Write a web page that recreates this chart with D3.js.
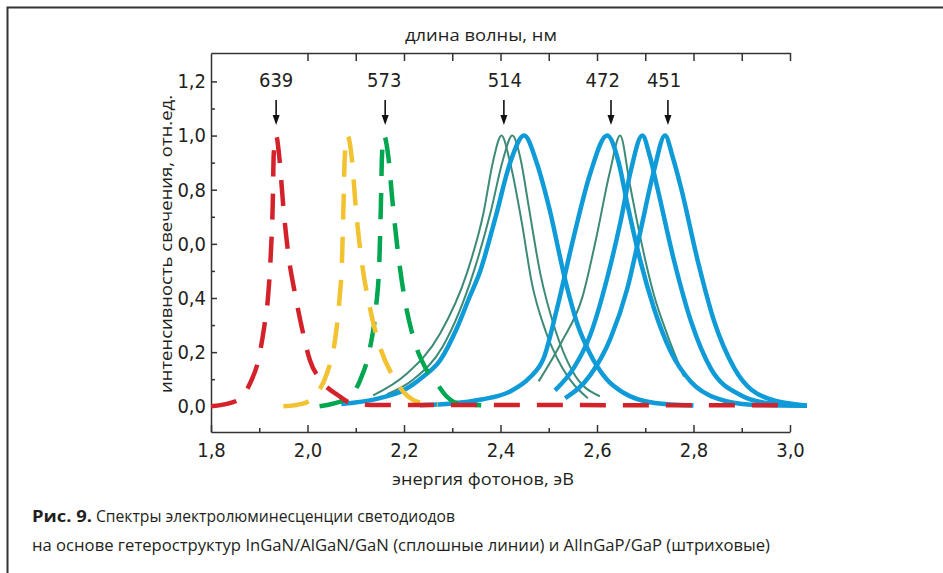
<!DOCTYPE html>
<html>
<head>
<meta charset="utf-8">
<script src="https://cdn.jsdelivr.net/npm/d3@7"></script>
<style>
  body { margin: 0; background: #fff; }
  svg { display: block; }
</style>
</head>
<body>
<svg width="943" height="573"></svg>
<script>
// Energy axis (eV) ticks and labels
var energyTicks = [1.8, 2.0, 2.2, 2.4, 2.6, 2.8, 3.0];
var energyLabels = ["1,8", "2,0", "2,2", "2,4", "2,6", "2,8", "3,0"];
var energyMinor = [1.9, 2.1, 2.3, 2.5, 2.7, 2.9];
var topTicks = [2.0, 2.1, 2.2, 2.3, 2.4, 2.5, 2.6, 2.7, 2.8, 2.9, 3.0];

// Intensity axis (labels as printed, incl. the "0,0" at 0.6)
var intensityTicks = [0, 0.2, 0.4, 0.6, 0.8, 1.0, 1.2];
var intensityLabels = ["0,0", "0,2", "0,4", "0,0", "0,8", "1,0", "1,2"];
var intensityMinor = [0.1, 0.3, 0.5, 0.7, 0.9, 1.1];

// Peak wavelengths (nm) with arrow and label positions on the energy axis
var peakWavelengths = ["639", "573", "514", "472", "451"];
var arrowEnergy = [1.935, 2.161, 2.407, 2.629, 2.747];
var labelEnergy = [1.935, 2.159, 2.409, 2.612, 2.739];

// AlInGaP/GaP spectra (dashed): [energy, intensity]
var redDash = [[1.80, 0.0], [1.853, 0.02], [1.881, 0.085], [1.898, 0.17], [1.910, 0.29], [1.918, 0.40],
  [1.924, 0.565], [1.928, 0.75], [1.930, 0.93], [1.935, 1.0], [1.941, 0.93], [1.950, 0.735],
  [1.960, 0.565], [1.974, 0.417], [1.988, 0.293], [2.005, 0.17], [2.026, 0.10], [2.064, 0.04],
  [2.09, 0.012], [2.13, 0.005], [3.0, 0.004]];
var yellowDash = [[1.95, 0.0], [1.991, 0.01], [2.019, 0.047], [2.040, 0.12], [2.057, 0.245], [2.066, 0.39],
  [2.0715, 0.54], [2.0745, 0.735], [2.0775, 0.93], [2.0826, 1.0], [2.0916, 0.92], [2.100, 0.735],
  [2.112, 0.54], [2.129, 0.366], [2.150, 0.22], [2.178, 0.108], [2.206, 0.04], [2.23, 0.015], [2.27, 0.005]];
var greenDash = [[2.025, 0.0], [2.081, 0.028], [2.109, 0.096], [2.130, 0.22], [2.142, 0.366], [2.149, 0.54],
  [2.152, 0.735], [2.1545, 0.93], [2.1585, 1.0], [2.167, 0.93], [2.1765, 0.75], [2.188, 0.56],
  [2.202, 0.39], [2.219, 0.256], [2.2435, 0.145], [2.268, 0.084], [2.288, 0.037], [2.31, 0.012], [2.36, 0.004]];

// InGaN/AlGaN/GaN spectra (solid)
var blue1 = [[2.07, 0.008], [2.15, 0.03], [2.20, 0.06], [2.24, 0.11], [2.275, 0.17], [2.31, 0.29], [2.335, 0.4],
  [2.358, 0.5], [2.39, 0.7], [2.42, 0.9], [2.449, 1.0], [2.475, 0.9], [2.50, 0.74], [2.535, 0.46],
  [2.56, 0.3], [2.584, 0.2], [2.62, 0.1], [2.655, 0.05], [2.72, 0.012], [2.80, 0.003]];
var blue2 = [[2.233, 0.004], [2.30, 0.01], [2.36, 0.025], [2.42, 0.055], [2.46, 0.105], [2.49, 0.18],
  [2.517, 0.36], [2.551, 0.62], [2.586, 0.86], [2.621, 1.0], [2.645, 0.9], [2.663, 0.746], [2.690, 0.536],
  [2.718, 0.362], [2.753, 0.201], [2.795, 0.09], [2.85, 0.028], [2.92, 0.006], [3.035, 0.002]];
var blue3 = [[2.513, 0.059], [2.551, 0.139], [2.586, 0.263], [2.621, 0.473], [2.649, 0.684], [2.670, 0.870],
  [2.694, 1.0], [2.71, 0.92], [2.725, 0.808], [2.760, 0.536], [2.795, 0.313], [2.836, 0.139],
  [2.899, 0.040], [2.96, 0.01], [3.035, 0.002]];
var blue4 = [[2.534, 0.030], [2.586, 0.115], [2.628, 0.251], [2.663, 0.436], [2.690, 0.647], [2.718, 0.870],
  [2.741, 1.0], [2.757, 0.92], [2.774, 0.808], [2.809, 0.536], [2.843, 0.313], [2.885, 0.139],
  [2.955, 0.028], [3.035, 0.002]];
var teal1 = [[2.136, 0.04], [2.2056, 0.12], [2.2746, 0.268], [2.33, 0.49], [2.3643, 0.71], [2.385, 0.908],
  [2.402, 1.0], [2.42, 0.9], [2.444, 0.68], [2.465, 0.455], [2.493, 0.28], [2.528, 0.142], [2.581, 0.03]];
var teal2 = [[2.165, 0.045], [2.22, 0.1], [2.28, 0.22], [2.345, 0.5], [2.38, 0.72], [2.405, 0.91],
  [2.4245, 1.0], [2.442, 0.91], [2.458, 0.743], [2.4825, 0.49], [2.514, 0.28], [2.549, 0.13], [2.606, 0.037]];
var teal3 = [[2.479, 0.092], [2.528, 0.242], [2.570, 0.405], [2.598, 0.618], [2.627, 0.868], [2.648, 1.0],
  [2.668, 0.82], [2.690, 0.622], [2.718, 0.411], [2.746, 0.263], [2.78, 0.11]];

var svg = d3.select("svg");
var textColor = "#231f20",
    axisColor = "#333",
    tickFont = "'Liberation Sans Narrow', 'DejaVu Sans Condensed', 'Open Sans', sans-serif",
    textFont = "'Open Sans', 'DejaVu Sans', sans-serif";

var x = d3.scaleLinear().domain([1.8, 3.0]).range([211, 790]);
var y = d3.scaleLinear().domain([-0.095, 1.305]).range([432, 53]);

// Frame of the figure (left and top edges)
svg.append("path")
  .attr("d", "M7.5,573V7.5H943")
  .attr("fill", "none")
  .attr("stroke", axisColor)
  .attr("stroke-width", 2);

function styleAxis(g) {
  g.select(".domain").attr("stroke", axisColor).attr("stroke-width", 1.5);
  g.selectAll(".tick line").attr("stroke", axisColor).attr("stroke-width", 1.5);
  g.selectAll("text")
    .attr("fill", textColor)
    .style("font-family", tickFont)
    .style("font-size", "20px");
}

// Bottom axis
svg.append("g")
  .attr("transform", "translate(0,432)")
  .call(d3.axisBottom(x).tickValues(energyTicks)
    .tickFormat(function(d, i) { return energyLabels[i]; })
    .tickSizeInner(-7).tickSizeOuter(0).tickPadding(11))
  .call(styleAxis);
svg.append("g")
  .attr("transform", "translate(0,432)")
  .call(d3.axisBottom(x).tickValues(energyMinor).tickFormat("").tickSizeInner(-4).tickSizeOuter(0))
  .call(styleAxis)
  .select(".domain").remove();

// Top axis (no labels)
svg.append("g")
  .attr("transform", "translate(0,53)")
  .call(d3.axisTop(x).tickValues(topTicks).tickFormat("").tickSizeInner(-8).tickSizeOuter(0))
  .call(styleAxis);

// Left axis
svg.append("g")
  .attr("transform", "translate(211,0)")
  .call(d3.axisLeft(y).tickValues(intensityTicks)
    .tickFormat(function(d, i) { return intensityLabels[i]; })
    .tickSizeInner(-6).tickSizeOuter(0).tickPadding(5))
  .call(styleAxis);
svg.append("g")
  .attr("transform", "translate(211,0)")
  .call(d3.axisLeft(y).tickValues(intensityMinor).tickFormat("").tickSizeInner(-4).tickSizeOuter(0))
  .call(styleAxis)
  .select(".domain").remove();

var line = d3.line()
  .x(function(d) { return x(d[0]); })
  .y(function(d) { return y(d[1]); })
  .curve(d3.curveMonotoneX);

var plot = svg.append("g").attr("fill", "none");

// Thin solid curves first, then thick solid, then dashed on top
[teal1, teal2, teal3].forEach(function(s) {
  plot.append("path").attr("d", line(s))
    .attr("stroke", "#3d8a77").attr("stroke-width", 2);
});
[blue1, blue2, blue3, blue4].forEach(function(s) {
  plot.append("path").attr("d", line(s))
    .attr("stroke", "#0f9ad8").attr("stroke-width", 4.5)
    .attr("stroke-linejoin", "round");
});
[[greenDash, "#00a650"], [yellowDash, "#f2c230"], [redDash, "#d4222b"]].forEach(function(s) {
  plot.append("path").attr("d", line(s[0]))
    .attr("stroke", s[1]).attr("stroke-width", 4.5)
    .attr("stroke-dasharray", "26,17");
});

// Peak markers: wavelength labels and arrows
var marks = svg.append("g");
marks.selectAll("text.wl")
  .data(peakWavelengths)
  .enter().append("text")
    .attr("class", "wl")
    .attr("x", function(d, i) { return x(labelEnergy[i]); })
    .attr("y", 87)
    .attr("text-anchor", "middle")
    .attr("fill", textColor)
    .style("font-family", tickFont)
    .style("font-size", "20px")
    .text(function(d) { return d; });

marks.selectAll("path.arrow")
  .data(arrowEnergy)
  .enter().append("path")
    .attr("class", "arrow")
    .attr("d", function(d) {
      var cx = x(d);
      return "M" + cx + ",100V117";
    })
    .attr("stroke", "#111").attr("stroke-width", 1.6);
marks.selectAll("path.head")
  .data(arrowEnergy)
  .enter().append("path")
    .attr("class", "head")
    .attr("d", function(d) {
      var cx = x(d);
      return "M" + (cx - 3.5) + ",115L" + (cx + 3.5) + ",115L" + cx + ",125Z";
    })
    .attr("fill", "#111");

// Axis titles
svg.append("text")
  .attr("x", 481).attr("y", 41)
  .attr("text-anchor", "middle")
  .attr("textLength", 152).attr("lengthAdjust", "spacingAndGlyphs")
  .attr("fill", textColor)
  .style("font-family", textFont).style("font-size", "17px")
  .text("длина волны, нм");

svg.append("text")
  .attr("x", 483).attr("y", 485)
  .attr("text-anchor", "middle")
  .attr("textLength", 182).attr("lengthAdjust", "spacingAndGlyphs")
  .attr("fill", textColor)
  .style("font-family", textFont).style("font-size", "17px")
  .text("энергия фотонов, эВ");

svg.append("text")
  .attr("transform", "translate(172,244) rotate(-90)")
  .attr("text-anchor", "middle")
  .attr("textLength", 298).attr("lengthAdjust", "spacingAndGlyphs")
  .attr("fill", textColor)
  .style("font-family", textFont).style("font-size", "17px")
  .text("интенсивность свечения, отн.ед.");

// Caption
svg.append("text")
  .attr("x", 32).attr("y", 522)
  .attr("textLength", 60).attr("lengthAdjust", "spacingAndGlyphs")
  .attr("fill", textColor)
  .style("font-family", textFont).style("font-size", "16px").style("font-weight", "bold")
  .text("Рис. 9.");
svg.append("text")
  .attr("x", 96).attr("y", 522)
  .attr("textLength", 359).attr("lengthAdjust", "spacingAndGlyphs")
  .attr("fill", textColor)
  .style("font-family", textFont).style("font-size", "16px")
  .text("Спектры электролюминесценции светодиодов");
svg.append("text")
  .attr("x", 32).attr("y", 551)
  .attr("textLength", 738).attr("lengthAdjust", "spacingAndGlyphs")
  .attr("fill", textColor)
  .style("font-family", textFont).style("font-size", "16px")
  .text("на основе гетероструктур InGaN/AlGaN/GaN (сплошные линии) и AlInGaP/GaP (штриховые)");
</script>
</body>
</html>
